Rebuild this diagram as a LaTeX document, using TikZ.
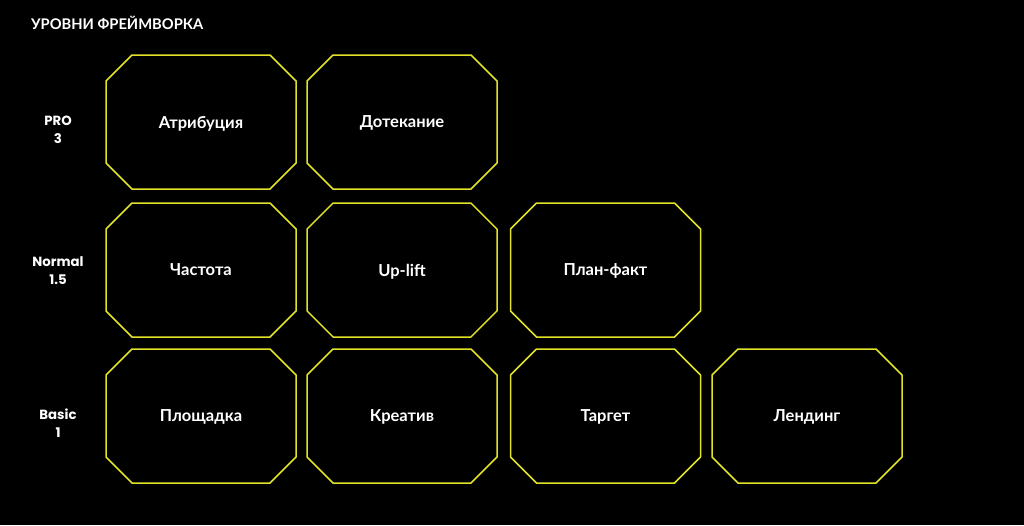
\documentclass[tikz,border=0pt]{standalone}
\usepackage{fontspec}
\setmainfont{Lato}
\newfontfamily\latinlab{Poppins}
\usetikzlibrary{shapes.misc}
\definecolor{frameyellow}{RGB}{226,226,40}
\tikzset{
  box/.style={chamfered rectangle, chamfered rectangle xsep=21pt, chamfered rectangle ysep=20pt,
    draw=frameyellow, line width=1.5pt, minimum width=190pt, minimum height=134pt, inner sep=0pt,
    text depth=0pt, text=white, font=\bfseries\fontsize{16.5}{18}\selectfont},
  level/.style={text=white, align=center, font=\latinlab\bfseries\fontsize{13.3}{18}\selectfont, inner sep=0pt},
  title/.style={text=white, anchor=west, font=\bfseries\fontsize{14.7}{16}\selectfont, inner sep=0pt}
}
\begin{document}
\begin{tikzpicture}[x=1pt,y=-1pt]
\fill[black] (0,0) rectangle (1024,525);
\useasboundingbox (0,0) rectangle (1024,525);
\node[title] (t) at (31,23) {УРОВНИ ФРЕЙМВОРКА};
\node[level] (l3) at (58,129.5) {PRO\\3};
\node[level] (l2) at (58,270.5) {Normal\\1.5};
\node[level] (l1) at (58,423.5) {Basic\\1};
\node[box] (a1) at (201,122) {Атрибуция};
\node[box] (a2) at (402,122) {Дотекание};
\node[box] (b1) at (201,270) {Частота};
\node[box] (b2) at (402,270) {Up-lift};
\node[box] (b3) at (605.5,270) {План-факт};
\node[box] (c1) at (201,416) {Площадка};
\node[box] (c2) at (402,416) {Креатив};
\node[box] (c3) at (605.5,416) {Таргет};
\node[box] (c4) at (807,416) {Лендинг};
\end{tikzpicture}
\end{document}
